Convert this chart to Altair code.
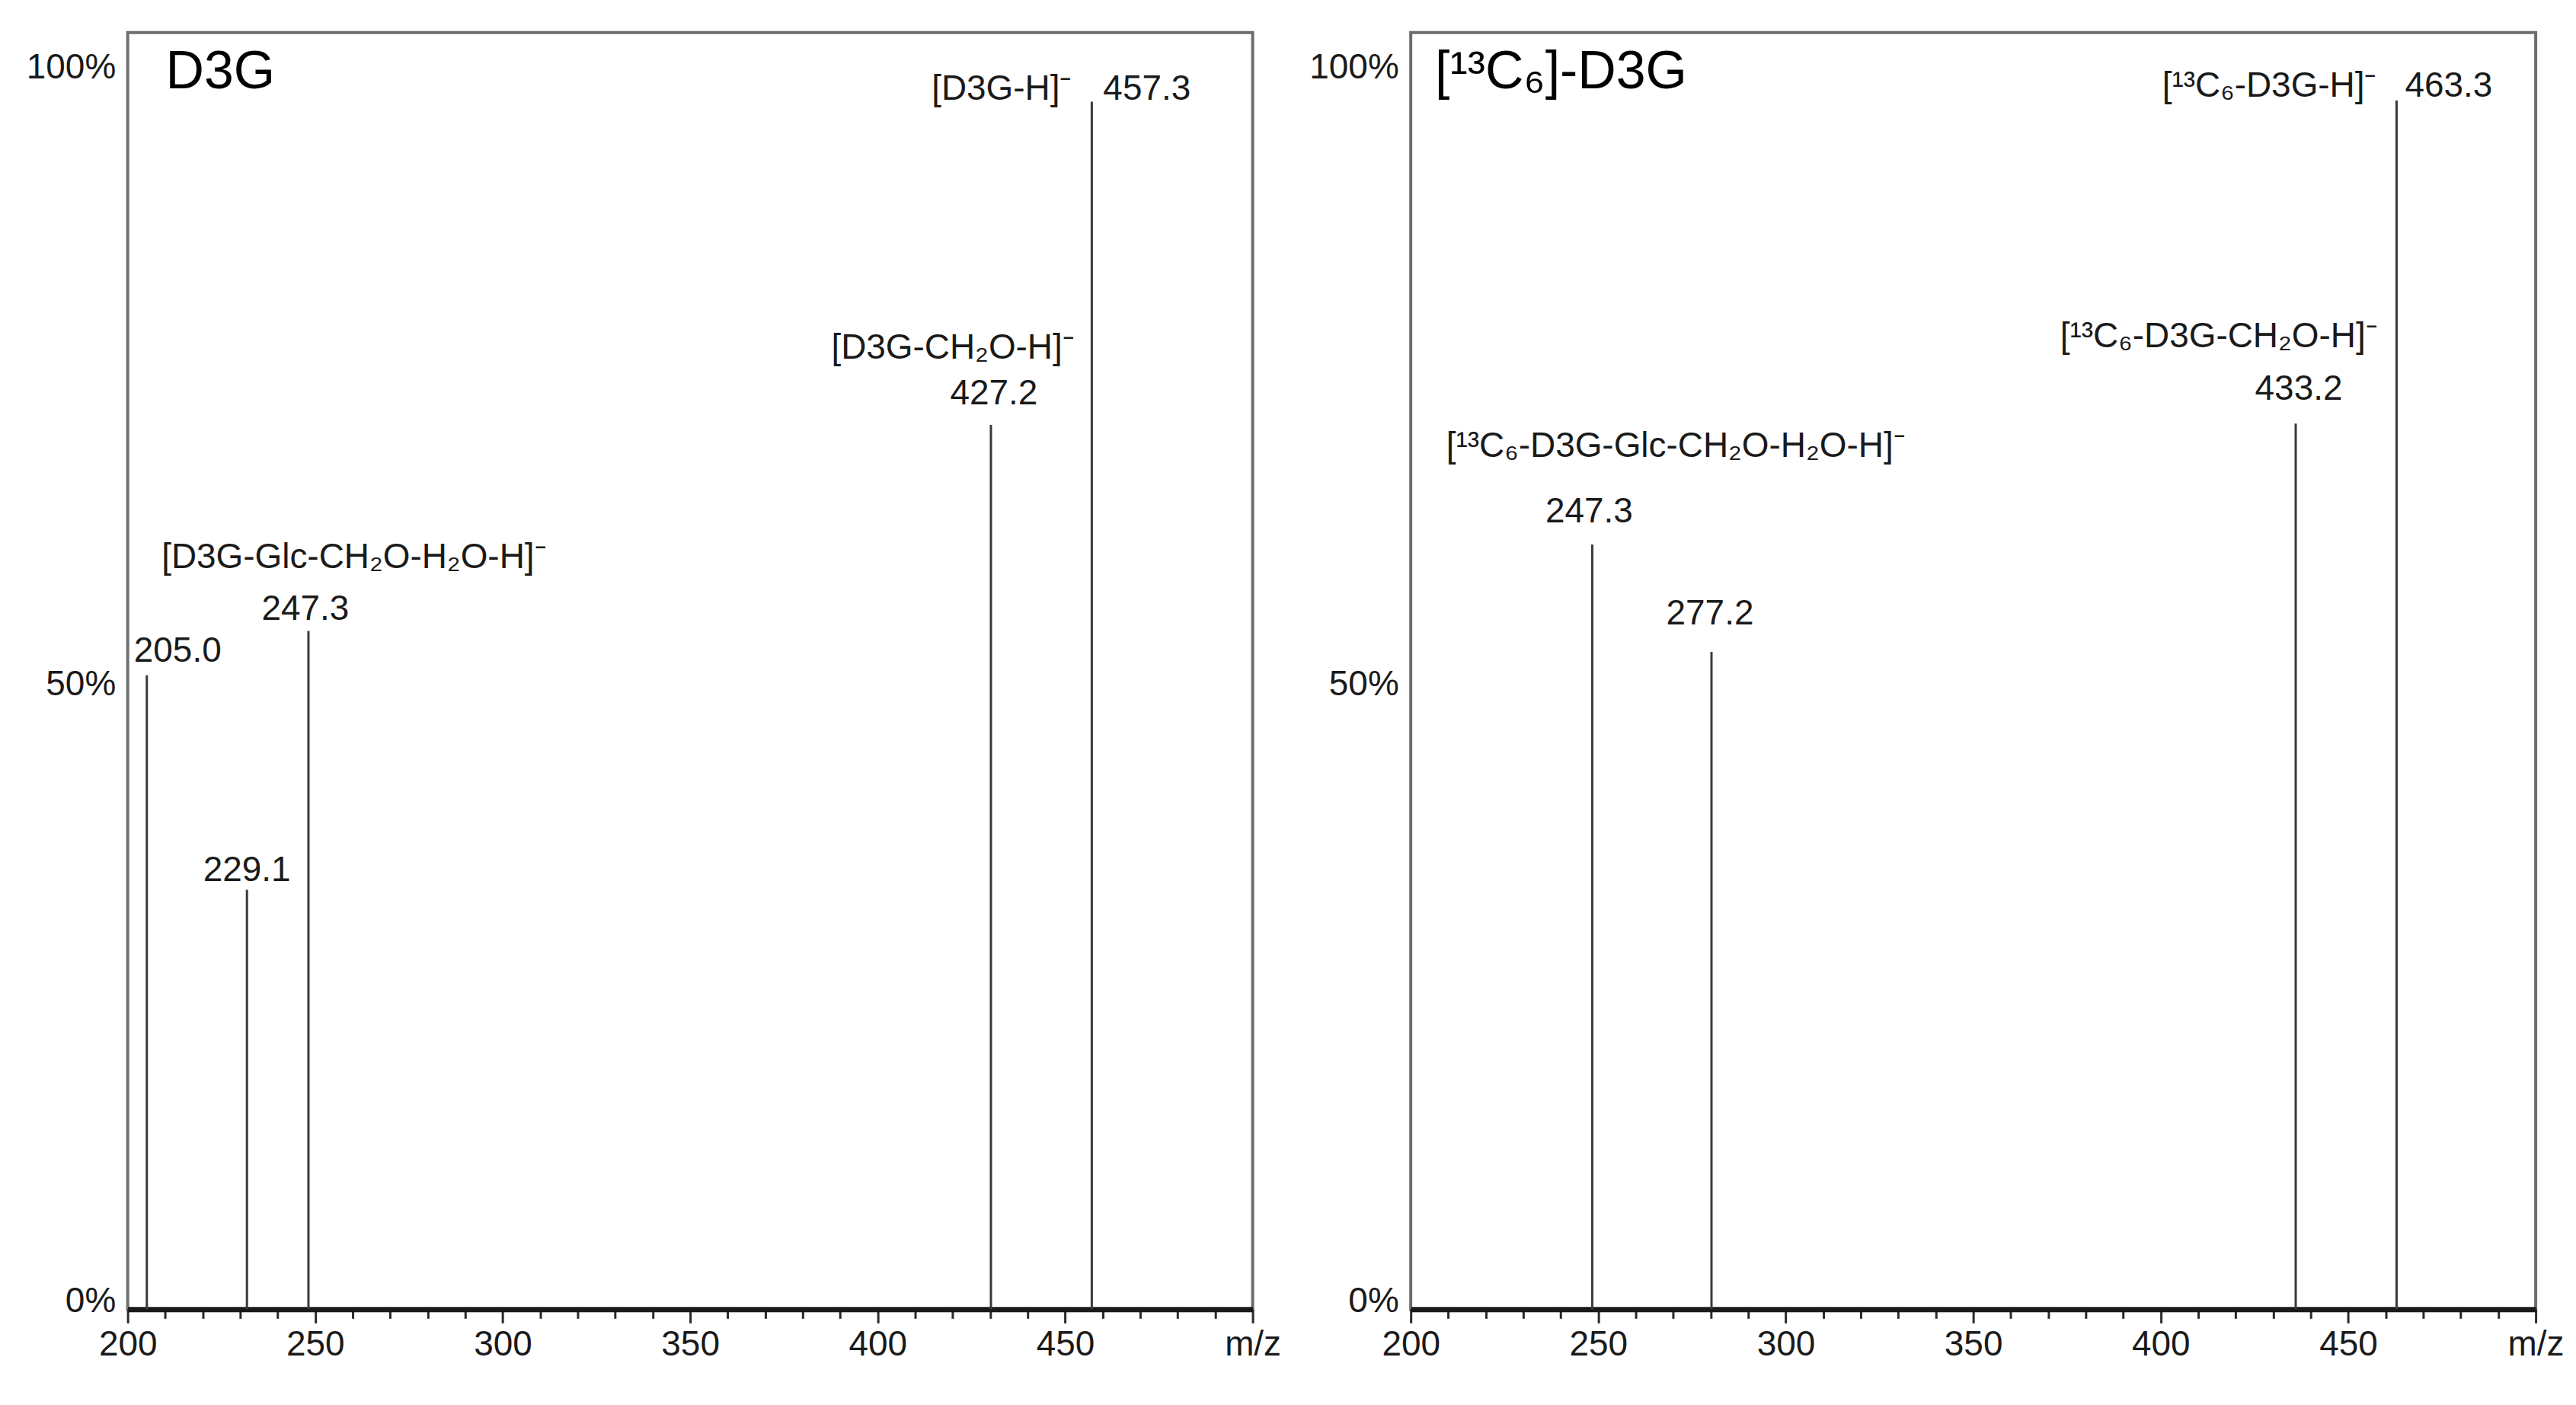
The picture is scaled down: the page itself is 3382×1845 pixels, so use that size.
import altair as alt
import pandas as pd

# ---------------- data ----------------
# line positions (m/z, as drawn in the figure), printed m/z labels, relative intensity (%)
left_pos = [205.1, 231.8, 248.2, 430.2, 457.1]
left_lab = ["205.0", "229.1", "247.3", "427.2", "457.3"]
left_int = [51.4, 34.0, 55.0, 71.7, 97.9]
left_title = "D3G"
left_ions = {
    "457.3": "[D3G-H]⁻",
    "427.2": "[D3G-CH₂O-H]⁻",
    "247.3": "[D3G-Glc-CH₂O-H₂O-H]⁻",
}

right_pos = [248.4, 280.2, 436.0, 462.9]
right_lab = ["247.3", "277.2", "433.2", "463.3"]
right_int = [62.0, 53.3, 71.8, 98.0]
right_title = "[¹³C₆]-D3G"
right_ions = {
    "463.3": "[¹³C₆-D3G-H]⁻",
    "433.2": "[¹³C₆-D3G-CH₂O-H]⁻",
    "247.3": "[¹³C₆-D3G-Glc-CH₂O-H₂O-H]⁻",
}

y_tick_values = [0, 50, 100]
x_tick_values = list(range(200, 505, 5))

# ---------------- styling (label placement offsets, px) ----------------
FONT = "Liberation Sans, Arial, sans-serif"
TXT = "#1a1a1a"
PEAK = "#3a3a3a"
FS = 46
W, H = 1480, 1680

left_value_style = {
    "205.0": ("left", -17, -32),
    "229.1": ("center", 0, -26),
    "247.3": ("center", -4, -28),
    "427.2": ("center", 4, -41),
    "457.3": ("left", 15, -17),
}
left_ion_style = {
    "457.3": ("right", -26, -17),
    "427.2": ("center", -50, -101),
    "247.3": ("center", 60, -97),
}
right_value_style = {
    "247.3": ("center", -4, -43),
    "277.2": ("center", -2, -50),
    "433.2": ("center", 4, -45),
    "463.3": ("left", 11, -19),
}
right_ion_style = {
    "463.3": ("right", -26, -19),
    "433.2": ("center", -101, -114),
    "247.3": ("center", 110, -129),
}


def panel(pos, labels, inten, title, ions, value_style, ion_style, title_dx):
    df = pd.DataFrame({"mz": pos, "intensity": inten, "value_label": labels})
    df["ion_label"] = [ions.get(v, "") for v in labels]

    xscale = alt.Scale(domain=[200, 500], nice=False, zero=False)
    yscale = alt.Scale(domain=[0, 103.5], nice=False)

    xaxis = alt.Axis(
        values=x_tick_values,
        labelExpr="datum.value === 500 ? 'm/z' : (datum.value % 50 === 0 ? datum.label : '')",
        format="d",
        title=None,
        grid=False,
        labelOverlap=False,
        labelFlush=False,
        labelFont=FONT,
        labelFontSize=FS,
        labelColor=TXT,
        labelPadding=6,
        domainColor="#1a1a1a",
        domainWidth=7,
        tickColor="#2a2a2a",
        tickWidth=3,
        tickSize={"condition": {"test": "datum.value % 25 === 0", "value": 18}, "value": 12},
    )
    yaxis = alt.Axis(
        values=y_tick_values,
        labelExpr="datum.value + '%'",
        title=None,
        grid=False,
        ticks=False,
        tickSize=0,
        domain=False,
        labelFont=FONT,
        labelFontSize=FS,
        labelColor=TXT,
        labelPadding=16,
        labelBaseline="middle",
        labelOffset=-11,
    )

    base = alt.Chart(df)
    rules = base.mark_rule(color=PEAK, strokeWidth=3).encode(
        x=alt.X("mz:Q", scale=xscale, axis=xaxis),
        y=alt.Y("intensity:Q", scale=yscale, axis=yaxis),
        y2=alt.datum(0),
    )

    layers = [rules]
    for v, (align, dx, dy) in value_style.items():
        layers.append(
            base.transform_filter(alt.datum.value_label == v)
            .mark_text(align=align, baseline="middle", dx=dx, dy=dy,
                       font=FONT, fontSize=FS, color=TXT)
            .encode(x="mz:Q", y="intensity:Q", text="value_label:N")
        )
    for v, (align, dx, dy) in ion_style.items():
        layers.append(
            base.transform_filter(alt.datum.value_label == v)
            .mark_text(align=align, baseline="middle", dx=dx, dy=dy,
                       font=FONT, fontSize=FS, color=TXT)
            .encode(x="mz:Q", y="intensity:Q", text="ion_label:N")
        )
    layers.append(
        alt.Chart(pd.DataFrame({"t": [title]}))
        .mark_text(align="left", baseline="middle", font=FONT, fontSize=70, color="#000000")
        .encode(x=alt.value(title_dx), y=alt.value(52), text="t:N")
    )
    return alt.layer(*layers).properties(width=W, height=H)


left = panel(left_pos, left_lab, left_int, left_title, left_ions,
             left_value_style, left_ion_style, 50)
right = panel(right_pos, right_lab, right_int, right_title, right_ions,
              right_value_style, right_ion_style, 32)

chart = (
    alt.hconcat(left, right, spacing=32)
    .properties(padding={"left": 24, "top": 31, "right": 5, "bottom": 5}, background="white")
    .configure_view(stroke="#6e6e6e", strokeWidth=4)
)

chart.save("out.html", embed_options={"renderer": "svg", "actions": False})
